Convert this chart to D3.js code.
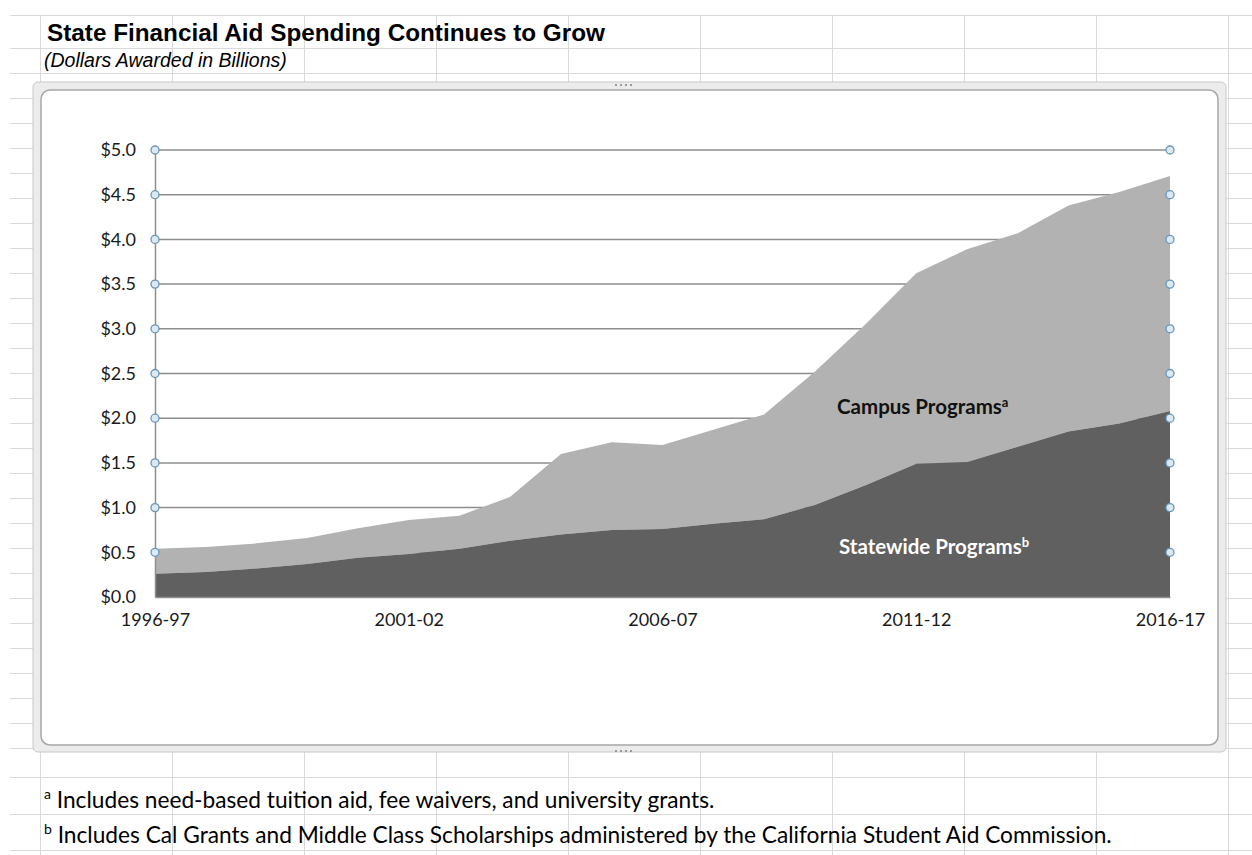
<!DOCTYPE html>
<html><head><meta charset="utf-8">
<script src="https://cdn.jsdelivr.net/npm/d3@7"></script>
<style>body{margin:0;background:#fff;} svg{display:block;}</style>
</head><body>
<svg id="c" width="1252" height="855"></svg>
<script>
const years = ["1996-97","1997-98","1998-99","1999-00","2000-01","2001-02","2002-03","2003-04","2004-05","2005-06","2006-07","2007-08","2008-09","2009-10","2010-11","2011-12","2012-13","2013-14","2014-15","2015-16","2016-17"];
const statewide = [0.26,0.28,0.32,0.37,0.44,0.48,0.54,0.63,0.70,0.75,0.76,0.82,0.87,1.03,1.25,1.49,1.51,1.68,1.85,1.94,2.08];
const campus    = [0.28,0.28,0.28,0.29,0.33,0.38,0.37,0.49,0.90,0.98,0.94,1.05,1.17,1.49,1.80,2.13,2.38,2.39,2.53,2.59,2.63];
const yTicks = [0,0.5,1,1.5,2,2.5,3,3.5,4,4.5,5];
const xTickLabels = ["1996-97","2001-02","2006-07","2011-12","2016-17"];

const svg = d3.select("#c");
// spreadsheet grid
const colX = [40,172,304,436,568,700,832,964,1096,1228];
const rowY = [15,48].concat(d3.range(73,749,25)).concat([777,814,850]);
const grid = svg.append("g").attr("stroke","#d8dadb").attr("stroke-width",1);
rowY.forEach(y=>grid.append("line").attr("x1",10).attr("x2",1252).attr("y1",y+0.5).attr("y2",y+0.5));
colX.forEach(x=>grid.append("line").attr("x1",x+0.5).attr("x2",x+0.5).attr("y1",15).attr("y2",855));

// chart frame
svg.append("rect").attr("x",33).attr("y",82).attr("width",1193).attr("height",670).attr("rx",5)
  .attr("fill","#ececec").attr("stroke","#c8c8c8");
svg.append("rect").attr("x",41).attr("y",90).attr("width",1177).attr("height",655).attr("rx",9)
  .attr("fill","#fff").attr("stroke","#a6a6a6").attr("stroke-width",1.5);
const hd = svg.append("g").attr("fill","#9a9a9a");
[[615,84],[620,84],[625,84],[630,84],[615,750],[620,750],[625,750],[630,750]].forEach(p=>hd.append("rect").attr("x",p[0]).attr("y",p[1]).attr("width",2).attr("height",2));

const x = d3.scalePoint().domain(years).range([155,1170]);
const y = d3.scaleLinear().domain([0,5]).range([597,150]);

const total = statewide.map((v,i)=>v+campus[i]);
const rows = years.map((yr,i)=>({yr,s:statewide[i],t:total[i]}));

// gridlines
const gl = svg.append("g");
yTicks.forEach(t=>{
  if(t>0) gl.append("line").attr("x1",155).attr("x2",1170).attr("y1",y(t)).attr("y2",y(t)).attr("stroke","#8e8e8e").attr("stroke-width",1.5);
});
// areas
svg.append("path").datum(rows).attr("fill","#b2b2b2")
  .attr("d",d3.area().x(d=>x(d.yr)).y0(d=>y(d.s)).y1(d=>y(d.t)));
svg.append("path").datum(rows).attr("fill","#606060")
  .attr("d",d3.area().x(d=>x(d.yr)).y0(y(0)).y1(d=>y(d.s)));

const FONT = "Lato, 'Noto Sans', sans-serif";
// axes
const yAxis = d3.axisLeft(y).tickValues(yTicks).tickFormat(d=>"$"+d3.format(".1f")(d)).tickSize(0).tickPadding(19);
const ya = svg.append("g").attr("transform","translate(155,0)").call(yAxis);
ya.select(".domain").attr("stroke","#8e8e8e").attr("stroke-width",1.5);
ya.selectAll("text").attr("font-family",FONT).attr("font-size",18).attr("fill","#1a1a1a");

const xAxis = d3.axisBottom(x).tickValues(xTickLabels).tickSize(0).tickPadding(16);
const xa = svg.append("g").attr("transform","translate(0,597)").call(xAxis);
xa.select(".domain").attr("stroke","#8e8e8e").attr("stroke-width",1.5);
xa.selectAll("text").attr("font-family",FONT).attr("font-size",18).attr("fill","#1a1a1a");

// selection handles on gridlines
const hg = svg.append("g");
yTicks.filter(t=>t>0).forEach(t=>{
  [155,1170].forEach(px=>hg.append("circle").attr("cx",px).attr("cy",y(t)).attr("r",4)
    .attr("fill","#dbe9f2").attr("stroke","#6a95b9").attr("stroke-width",1.3));
});

// series labels
const lab = svg.append("g").attr("font-family",FONT).attr("font-weight","bold").attr("font-size",20.5);
const t1 = lab.append("text").attr("x",837).attr("y",414).attr("fill","#111");
t1.append("tspan").text("Campus Programs");
t1.append("tspan").text("a").attr("font-size",13).attr("dy",-7);
const t2 = lab.append("text").attr("x",839).attr("y",554).attr("fill","#fff");
t2.append("tspan").text("Statewide Programs");
t2.append("tspan").text("b").attr("font-size",13).attr("dy",-7);

// title
svg.append("text").attr("x",47).attr("y",41).attr("font-family","'Liberation Sans', Arial, sans-serif")
  .attr("font-weight","bold").attr("font-size",24.3).attr("fill","#000").text("State Financial Aid Spending Continues to Grow");
svg.append("text").attr("x",44).attr("y",67).attr("font-family","'Liberation Sans', Arial, sans-serif")
  .attr("font-style","italic").attr("font-size",19.5).attr("fill","#000").text("(Dollars Awarded in Billions)");

// footnotes
const fn = svg.append("g").attr("font-family",FONT).attr("font-size",22.7).attr("fill","#000");
const f1 = fn.append("text").attr("x",44).attr("y",808);
f1.append("tspan").text("a").attr("font-size",14).attr("dy",-9);
f1.append("tspan").text(" Includes need-based tuition aid, fee waivers, and university grants.").attr("dy",9);
const f2 = fn.append("text").attr("x",44).attr("y",843);
f2.append("tspan").text("b").attr("font-size",14).attr("dy",-9);
f2.append("tspan").text(" Includes Cal Grants and Middle Class Scholarships administered by the California Student Aid Commission.").attr("dy",9);
</script>
</body></html>
